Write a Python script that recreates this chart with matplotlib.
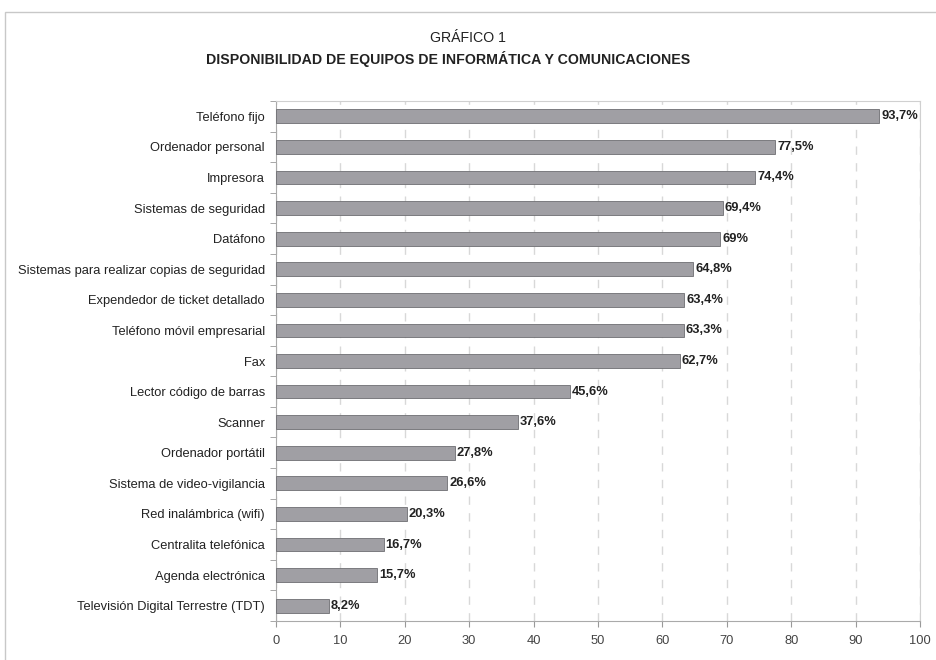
import matplotlib
matplotlib.use("Agg")
import matplotlib.pyplot as plt
from matplotlib.patches import Rectangle
import numpy as np

plt.rcParams['font.family'] = ['Liberation Sans Narrow', 'Liberation Sans', 'DejaVu Sans']

equipos = [
    "Teléfono fijo",
    "Ordenador personal",
    "Impresora",
    "Sistemas de seguridad",
    "Datáfono",
    "Sistemas para realizar copias de seguridad",
    "Expendedor de ticket detallado",
    "Teléfono móvil empresarial",
    "Fax",
    "Lector código de barras",
    "Scanner",
    "Ordenador portátil",
    "Sistema de video-vigilancia",
    "Red inalámbrica (wifi)",
    "Centralita telefónica",
    "Agenda electrónica",
    "Televisión Digital Terrestre (TDT)",
]
porcentajes = [93.7, 77.5, 74.4, 69.4, 69.0, 64.8, 63.4, 63.3, 62.7,
               45.6, 37.6, 27.8, 26.6, 20.3, 16.7, 15.7, 8.2]
etiquetas = ["93,7%", "77,5%", "74,4%", "69,4%", "69%", "64,8%", "63,4%", "63,3%",
             "62,7%", "45,6%", "37,6%", "27,8%", "26,6%", "20,3%", "16,7%", "15,7%", "8,2%"]
xticks = [0, 10, 20, 30, 40, 50, 60, 70, 80, 90, 100]

fig = plt.figure(figsize=(9.37, 6.6), dpi=100)

# marco exterior del gráfico
fig.patches.append(Rectangle((5 / 937, -0.05), 1.2, 1 - 12 / 660 + 0.05,
                             transform=fig.transFigure, fill=False,
                             edgecolor='#c8c8c8', linewidth=1.0))

ax = fig.add_axes([276 / 937, 1 - 621 / 660, (920 - 276) / 937, (621 - 101) / 660])

y = np.arange(len(equipos))
ax.barh(y, porcentajes, height=0.45, color='#a09fa4', edgecolor='#6e6e72',
        linewidth=0.6, zorder=3)

for yi, v, t in zip(y, porcentajes, etiquetas):
    ax.text(v + 0.3, yi, t, va='center', ha='left', fontsize=9.3,
            fontweight='bold', color='#222222', zorder=4)

ax.set_xlim(0, 100)
ax.set_ylim(len(equipos) - 0.5, -0.5)
ax.set_xticks(xticks)
ax.set_xticklabels([str(v) for v in xticks], fontsize=9.3, color='#444444')
ax.set_yticks(y)
ax.set_yticklabels(equipos, fontsize=9.3, color='#222222')
ax.tick_params(axis='y', length=0, pad=8)
ax.set_yticks(np.arange(len(equipos) + 1) - 0.5, minor=True)
ax.tick_params(axis='y', which='minor', length=4, color='#999999')
ax.tick_params(axis='x', length=4, color='#999999', pad=6)

ax.grid(axis='x', linestyle=(0, (6, 6)), color='#d8d8d8', linewidth=1.0, zorder=0)
for s in ['left', 'bottom']:
    ax.spines[s].set_color('#aaaaaa')
for s in ['top', 'right']:
    ax.spines[s].set_color('#d0d0d0')

fig.text(468 / 937, 1 - 38 / 660, "GRÁFICO 1", ha='center', va='center',
         fontsize=10.2, color='#222222')
fig.text(448 / 937, 1 - 59 / 660,
         "DISPONIBILIDAD DE EQUIPOS DE INFORMÁTICA Y COMUNICACIONES",
         ha='center', va='center', fontsize=10.2, fontweight='bold', color='#222222')

fig.savefig("out.png", dpi=100)
